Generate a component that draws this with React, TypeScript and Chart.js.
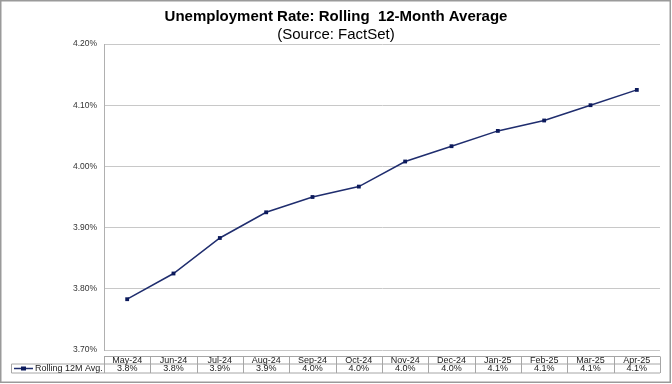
import React, { useEffect, useRef } from "react";
import { Chart, registerables } from "chart.js";

Chart.register(...registerables);

const categories = ["May-24", "Jun-24", "Jul-24", "Aug-24", "Sep-24", "Oct-24", "Nov-24", "Dec-24", "Jan-25", "Feb-25", "Mar-25", "Apr-25"];
const rolling12M = [3.783, 3.825, 3.883, 3.925, 3.95, 3.967, 4.008, 4.033, 4.058, 4.075, 4.1, 4.125];
const seriesName = "Rolling 12M Avg.";
const titleText = "Unemployment Rate: Rolling  12-Month Average";
const subtitleText = "(Source: FactSet)";
const yMin = 3.7;
const yMax = 4.2;
const yStep = 0.1;

const LINE = "#1f2d6e";
const MARK = "#0c1a5c";
const FONT = "'Liberation Sans', Arial, sans-serif";

const frameAndTable = {
  id: "frameAndTable",
  afterDraw(chart: any) {
    const ctx = chart.ctx as CanvasRenderingContext2D;
    const xs = chart.scales.x;
    const area = chart.chartArea;
    const n = categories.length;
    const colW = (area.right - area.left) / n;
    ctx.save();
    // outer frame
    ctx.strokeStyle = "#9a9a9a";
    ctx.lineWidth = 1.5;
    ctx.strokeRect(0.75, 0.75, chart.width - 2.5, chart.height - 2.5);

    // title
    ctx.fillStyle = "#000";
    ctx.textAlign = "center";
    ctx.textBaseline = "middle";
    ctx.font = `bold 15px ${FONT}`;
    ctx.fillText(titleText, chart.width / 2, 17);
    ctx.font = `15px ${FONT}`;
    ctx.fillText(subtitleText, chart.width / 2, 35);

    // table
    const t0 = area.bottom + 6.5;
    const t1 = t0 + 7.5;
    const t2 = t1 + 9;
    const legL = 11.5;
    ctx.strokeStyle = "#a6a6a6";
    ctx.lineWidth = 1;
    ctx.beginPath();
    ctx.moveTo(area.left, t0);
    ctx.lineTo(area.right, t0);
    ctx.moveTo(legL, t1);
    ctx.lineTo(area.right, t1);
    ctx.moveTo(legL, t2);
    ctx.lineTo(area.right, t2);
    ctx.moveTo(legL, t1);
    ctx.lineTo(legL, t2);
    for (let i = 0; i < n; i++) {
      const cx = xs.getPixelForValue(i);
      const l = Math.round(cx - colW / 2) + 0.5;
      ctx.moveTo(l, t0);
      ctx.lineTo(l, t2);
    }
    const r = Math.round(xs.getPixelForValue(n - 1) + colW / 2) + 0.5;
    ctx.moveTo(r, t0);
    ctx.lineTo(r, t2);
    ctx.stroke();

    ctx.fillStyle = "#222";
    ctx.font = `9px ${FONT}`;
    ctx.textAlign = "center";
    for (let i = 0; i < n; i++) {
      const cx = xs.getPixelForValue(i);
      ctx.fillText(categories[i], cx, (t0 + t1) / 2 + 0.5);
      ctx.fillText(rolling12M[i].toFixed(1) + "%", cx, (t1 + t2) / 2 + 0.5);
    }
    // legend
    const ly = (t1 + t2) / 2;
    ctx.strokeStyle = LINE;
    ctx.lineWidth = 1.5;
    ctx.beginPath();
    ctx.moveTo(14, ly);
    ctx.lineTo(33, ly);
    ctx.stroke();
    ctx.fillStyle = MARK;
    ctx.fillRect(21, ly - 2, 5, 4);
    ctx.fillStyle = "#222";
    ctx.textAlign = "left";
    ctx.fillText(seriesName, 35, ly + 0.5);
    ctx.restore();
  },
};

export default function App() {
  const ref = useRef<HTMLCanvasElement>(null);
  useEffect(() => {
    if (!ref.current) return;
    const chart = new Chart(ref.current, {
      type: "line",
      data: {
        labels: categories,
        datasets: [
          {
            label: seriesName,
            data: rolling12M,
            borderColor: LINE,
            backgroundColor: MARK,
            borderWidth: 1.5,
            pointStyle: "rect",
            pointRadius: 2.7,
            pointBorderWidth: 0,
            pointBackgroundColor: MARK,
            tension: 0,
          },
        ],
      },
      options: {
        responsive: false,
        animation: false,
        devicePixelRatio: 1,
        layout: { padding: { top: 44, right: 12, bottom: 34, left: 0 } },
        plugins: {
          legend: { display: false },
          title: { display: false },
          tooltip: { enabled: false },
        },
        scales: {
          x: {
            type: "category",
            offset: true,
            display: false,
          },
          y: {
            min: yMin,
            max: yMax,
            afterFit: (s: any) => {
              s.width = 104;
            },
            ticks: {
              stepSize: yStep,
              padding: 7,
              color: "#333",
              font: { family: FONT, size: 8.5 },
              callback: (v: any) => Number(v).toFixed(2) + "%",
            },
            grid: { color: "#c8c8c8", lineWidth: 1, drawTicks: false },
            border: { display: true, color: "#b0b0b0", width: 1 },
          },
        },
      },
      plugins: [frameAndTable],
    });
    return () => chart.destroy();
  }, []);
  return (
    <div style={{ position: "fixed", left: 0, top: 0, width: 672, height: 384, background: "#fff" }}>
      <canvas ref={ref} width={672} height={384} style={{ display: "block", width: 672, height: 384 }} />
    </div>
  );
}
